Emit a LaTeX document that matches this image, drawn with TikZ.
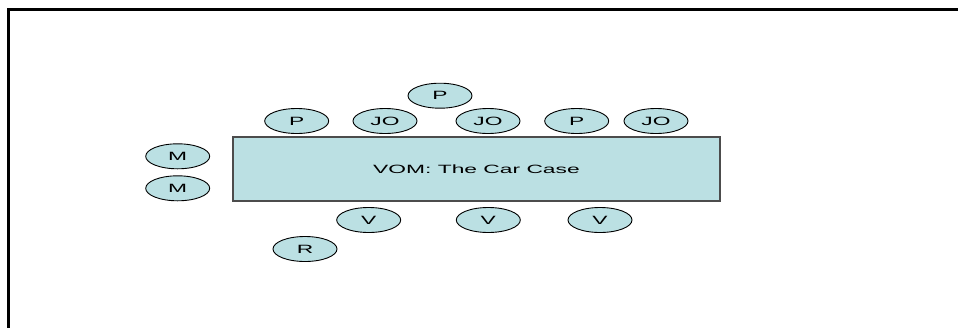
\documentclass[tikz,border=0pt]{standalone}
\usepackage{fontspec}
\setmainfont{Liberation Sans}
\usetikzlibrary{shapes.geometric}
\definecolor{seatfill}{HTML}{BBE0E3}
\begin{document}
\begin{tikzpicture}[x=1pt,y=-1pt,
  seat/.style={ellipse,draw=black,line width=0.9pt,fill=seatfill,
    minimum width=64pt,minimum height=25pt,inner sep=0pt},
  tablebox/.style={rectangle,draw=black!70,line width=1.2pt,fill=seatfill,
    minimum width=487pt,minimum height=64pt,inner sep=0pt},
  frame/.style={line width=3pt,line cap=rect}]
\useasboundingbox (0,0) rectangle (958,327);
\newcommand{\wide}[1]{\scalebox{1.9}[1]{\fontsize{12}{14}\selectfont #1}}
% outer frame: top and left edges
\coordinate (fa) at (8.5,327);
\coordinate (fb) at (8.5,9);
\coordinate (fc) at (958,9);
\draw[frame] (fa) -- (fb) -- (fc);
% the table
\node[tablebox] (table) at (476.5,169) {\wide{VOM: The Car Case}};
% seats along the top
\node[seat] (p1) at (296.7,121) {\wide{P}};
\node[seat] (jo1) at (385,121) {\wide{JO}};
\node[seat] (p2) at (440,95.7) {\wide{P}};
\node[seat] (jo2) at (488,121) {\wide{JO}};
\node[seat] (p3) at (576.7,121) {\wide{P}};
\node[seat] (jo3) at (656,121) {\wide{JO}};
% seats at the left end
\node[seat] (m1) at (177.7,156.3) {\wide{M}};
\node[seat] (m2) at (177.7,188.3) {\wide{M}};
% seats along the bottom
\node[seat] (v1) at (368.7,220) {\wide{V}};
\node[seat] (v2) at (488.3,220) {\wide{V}};
\node[seat] (v3) at (600,220) {\wide{V}};
\node[seat] (r1) at (305,249) {\wide{R}};
\end{tikzpicture}
\end{document}
